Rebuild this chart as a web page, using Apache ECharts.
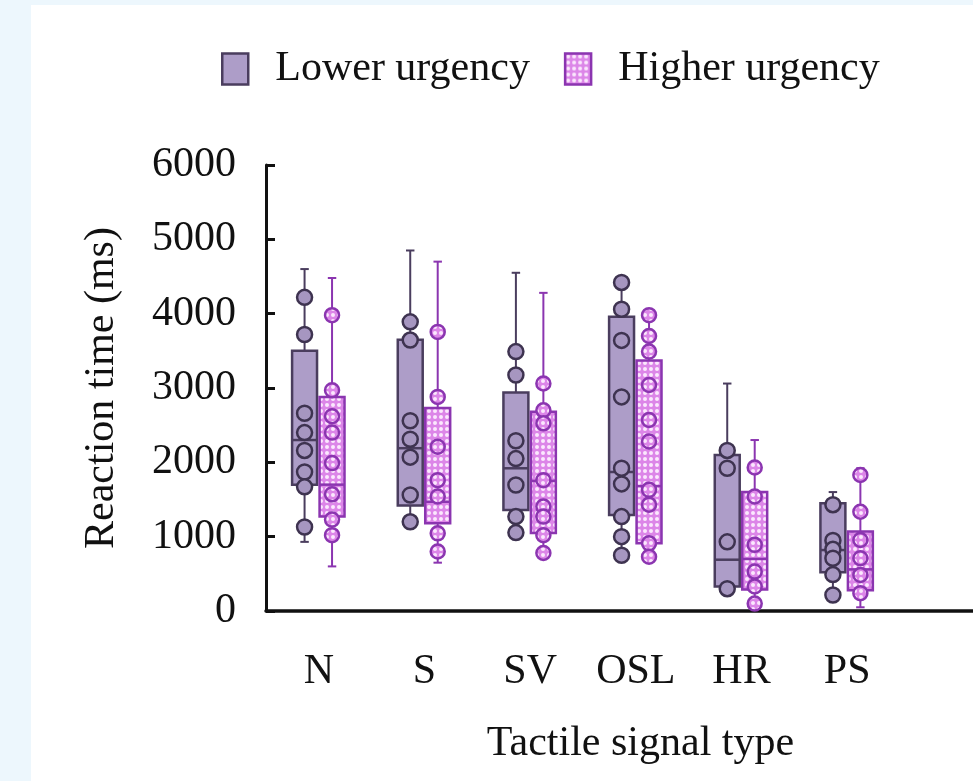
<!DOCTYPE html>
<html>
<head>
<meta charset="utf-8">
<script src="https://cdn.jsdelivr.net/npm/echarts@6/dist/echarts.min.js"></script>
<style>
  html, body { margin: 0; padding: 0; background: #edf7fd; }
  #panel { position: absolute; left: 31px; top: 5px; width: 942px; height: 776px; background: #ffffff; }
  #chart { position: absolute; left: 0; top: 0; width: 973px; height: 781px; }
</style>
</head>
<body>
<div id="panel"></div>
<div id="chart"></div>
<script>
// ---------- data ----------
var categories = ['N', 'S', 'SV', 'OSL', 'HR', 'PS'];
var yTicks = [0, 1000, 2000, 3000, 4000, 5000, 6000];
var seriesNames = ['Lower urgency', 'Higher urgency'];

// [whisker low, Q1, median, Q3, whisker high]
var lowerStats = [
  [930, 1700, 2300, 3500, 4600],
  [1180, 1420, 2190, 3650, 4850],
  [1050, 1360, 1920, 2940, 4550],
  [740, 1290, 1870, 3960, 4420],
  [300, 330, 690, 2100, 3060],
  [210, 520, 820, 1450, 1600]
];
var higherStats = [
  [600, 1270, 1700, 2880, 4480],
  [650, 1180, 1470, 2730, 4700],
  [780, 1050, 1750, 2680, 4280],
  [730, 910, 1680, 3370, 3980],
  [80, 290, 700, 1600, 2300],
  [50, 280, 560, 1070, 1920]
];
// individual participant points
var lowerPoints = [
  [4220, 3720, 2660, 2400, 2160, 1870, 1670, 1130],
  [3890, 3645, 2560, 2310, 2070, 1560, 1200],
  [3490, 3175, 2290, 2050, 1695, 1270, 1055],
  [4420, 4060, 3640, 2880, 1920, 1710, 1270, 1000, 750],
  [2160, 1920, 930, 300],
  [1430, 950, 830, 710, 490, 215]
];
var higherPoints = [
  [3980, 2970, 2620, 2400, 1990, 1570, 1230, 1020],
  [3755, 2880, 2210, 1760, 1540, 1045, 800],
  [3060, 2700, 2525, 1760, 1405, 1270, 1020, 780],
  [3980, 3700, 3490, 3040, 2570, 2280, 1630, 1430, 910, 730],
  [1930, 1540, 890, 530, 330, 100],
  [1830, 1335, 955, 710, 485, 240]
];

// ---------- styles ----------
var FONT = 'Liberation Serif';
var FS = 42;
var lowerFill = '#ad9dc8';
var lowerEdge = '#4a3d5e';
var higherEdge = '#8b35b0';

function makePattern() {
  var c = document.createElement('canvas');
  c.width = 6; c.height = 6;
  var ctx = c.getContext('2d');
  ctx.fillStyle = '#dc86e8';
  ctx.fillRect(0, 0, 6, 6);
  ctx.fillStyle = '#fbe8fd';
  ctx.beginPath();
  ctx.arc(3, 3, 2.0, 0, Math.PI * 2);
  ctx.fill();
  return { image: c, repeat: 'repeat' };
}
var higherFill = makePattern();

var BOX_HALF = 0.118, CAP_HALF = 0.04;
var LOWER_OFF = -0.135, HIGHER_OFF = 0.125;

function boxRenderer(off, fill, edge) {
  return function (params, api) {
    var i = api.value(0);
    var band = api.size([1, 0])[0];
    var cx = api.coord([i, 0])[0] + off * band;
    var hw = BOX_HALF * band, cw = CAP_HALF * band;
    function y(k) { return api.coord([i, api.value(k)])[1]; }
    var yMin = y(1), yQ1 = y(2), yMed = y(3), yQ3 = y(4), yMax = y(5);
    var ls = { stroke: edge, lineWidth: 2 };
    return {
      type: 'group',
      children: [
        { type: 'line', shape: { x1: cx, y1: yMax, x2: cx, y2: yQ3 }, style: ls },
        { type: 'line', shape: { x1: cx, y1: yQ1, x2: cx, y2: yMin }, style: ls },
        { type: 'line', shape: { x1: cx - cw, y1: yMax, x2: cx + cw, y2: yMax }, style: ls },
        { type: 'line', shape: { x1: cx - cw, y1: yMin, x2: cx + cw, y2: yMin }, style: ls },
        { type: 'rect', shape: { x: cx - hw, y: yQ3, width: 2 * hw, height: yQ1 - yQ3 },
          style: { fill: fill, stroke: edge, lineWidth: 2.5 } },
        { type: 'line', shape: { x1: cx - hw, y1: yMed, x2: cx + hw, y2: yMed }, style: { stroke: edge, lineWidth: 2.5 } }
      ]
    };
  };
}
function pointRenderer(off, fill, edge, r, lw) {
  return function (params, api) {
    var i = api.value(0);
    var band = api.size([1, 0])[0];
    var p = api.coord([i, api.value(1)]);
    return {
      type: 'circle',
      shape: { cx: p[0] + off * band, cy: p[1], r: r },
      style: { fill: fill, stroke: edge, lineWidth: lw }
    };
  };
}

function statsData(stats) { return stats.map(function (s, i) { return [i].concat(s); }); }
function pointsData(pts) {
  var out = [];
  pts.forEach(function (arr, i) { arr.forEach(function (v) { out.push([i, v]); }); });
  return out;
}

var chart = echarts.init(document.getElementById('chart'), null, { renderer: 'canvas' });
var axisText = { fontFamily: FONT, fontSize: FS, color: '#111' };

chart.setOption({
  backgroundColor: 'transparent',
  animation: false,
  textStyle: { fontFamily: FONT },
  legend: {
    left: 216, top: 43,
    itemWidth: 26, itemHeight: 31, itemGap: 34,
    textStyle: { fontFamily: FONT, fontSize: FS, color: '#111', padding: [0, 0, 0, 22] },
    selectedMode: false,
    data: [
      { name: seriesNames[0], icon: 'rect', itemStyle: { color: lowerFill, borderColor: lowerEdge, borderWidth: 2.5 } },
      { name: seriesNames[1], icon: 'rect', itemStyle: { color: higherFill, borderColor: higherEdge, borderWidth: 2.5 } }
    ]
  },
  grid: [
    { left: 266, top: 165, width: 634, bottom: 170 },
    { left: 266, top: 165, right: 0, bottom: 170 }
  ],
  xAxis: [
    {
      type: 'category', data: categories, gridIndex: 0,
      axisLine: { show: false }, axisTick: { show: false },
      axisLabel: Object.assign({ margin: 40 }, axisText)
    },
    {
      type: 'value', gridIndex: 1, min: 0, max: 1,
      axisLine: { show: true, onZero: false, lineStyle: { color: '#111', width: 3.5 } },
      axisTick: { show: false }, axisLabel: { show: false }, splitLine: { show: false },
      name: 'Tactile signal type', nameLocation: 'middle', nameGap: 112,
      nameTextStyle: Object.assign({ padding: [0, 0, 0, 42] }, axisText)
    }
  ],
  yAxis: [
    {
      type: 'value', gridIndex: 0, min: yTicks[0], max: yTicks[yTicks.length - 1], interval: 1000,
      axisLine: { show: true, lineStyle: { color: '#111', width: 3 } },
      axisTick: { show: true, inside: true, length: 9, lineStyle: { color: '#111', width: 3 } },
      splitLine: { show: false },
      axisLabel: Object.assign({ margin: 30, formatter: function (v) { return String(v); } }, axisText),
      name: 'Reaction time (ms)', nameLocation: 'middle', nameRotate: 90, nameGap: 143,
      nameTextStyle: axisText
    },
    { type: 'value', gridIndex: 1, show: false, min: 0, max: 1 }
  ],
  series: [
    { type: 'custom', name: seriesNames[0], xAxisIndex: 0, yAxisIndex: 0,
      renderItem: boxRenderer(LOWER_OFF, lowerFill, lowerEdge),
      encode: { x: 0, y: [1, 2, 3, 4, 5] }, data: statsData(lowerStats), z: 2 },
    { type: 'custom', name: seriesNames[1], xAxisIndex: 0, yAxisIndex: 0,
      renderItem: boxRenderer(HIGHER_OFF, higherFill, higherEdge),
      encode: { x: 0, y: [1, 2, 3, 4, 5] }, data: statsData(higherStats), z: 2 },
    { type: 'custom', name: seriesNames[0], xAxisIndex: 0, yAxisIndex: 0,
      renderItem: pointRenderer(LOWER_OFF, '#a696c0', '#3e3350', 7.5, 2.5),
      encode: { x: 0, y: 1 }, data: pointsData(lowerPoints), z: 3 },
    { type: 'custom', name: seriesNames[1], xAxisIndex: 0, yAxisIndex: 0,
      renderItem: pointRenderer(HIGHER_OFF, higherFill, higherEdge, 7, 2.5),
      encode: { x: 0, y: 1 }, data: pointsData(higherPoints), z: 3 }
  ]
});
</script>
</body>
</html>
